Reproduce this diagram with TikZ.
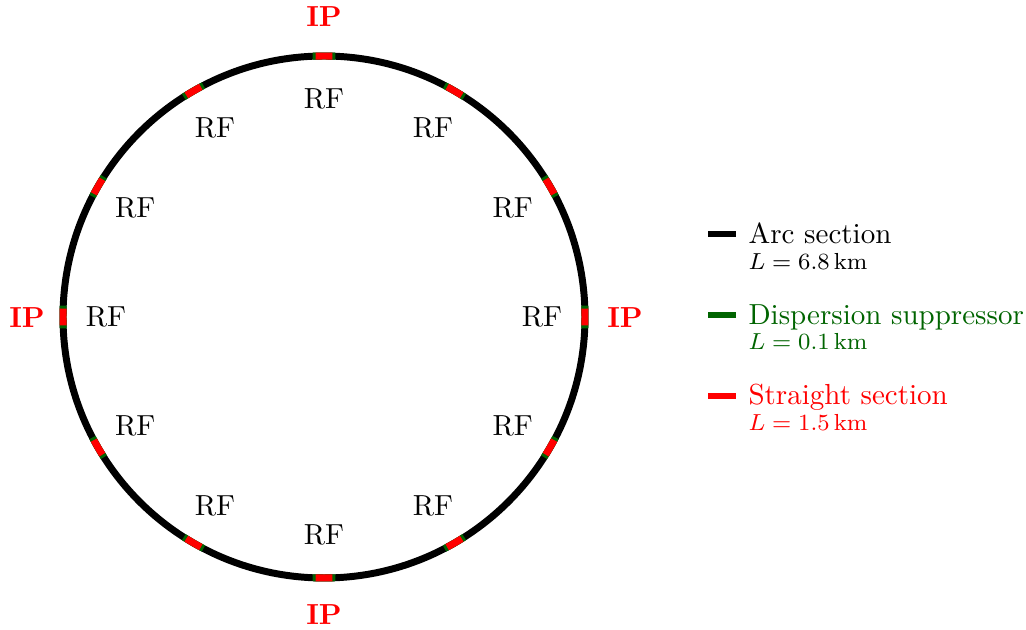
\documentclass[tikz,border=0pt]{standalone}
\definecolor{dsgreen}{RGB}{0,100,0}
\definecolor{ipred}{RGB}{255,0,0}
\begin{document}
\begin{tikzpicture}[x=0.3448pt,y=-0.3448pt,
  ring/.style={line width=2.4pt,line cap=butt},
  rflabel/.style={inner sep=0pt},
  iplabel/.style={text=ipred,font=\bfseries,inner sep=0pt},
  legtext/.style={anchor=base west,inner sep=0pt},
  legsub/.style={anchor=base west,inner sep=0pt,font=\footnotesize},
  legbar/.style={line width=2.4pt}]
\path[use as bounding box] (0,0) rectangle (1026,630);
\coordinate (O) at (324,317);
% ring
\draw[ring] (O) circle[radius=261];
\foreach \a in {0,30,...,330}{
  \draw[ring,dsgreen] ([shift={(\a-2.5:261)}]O) arc[start angle=\a-2.5,end angle=\a+2.5,radius=261];
  \draw[ring,ipred] ([shift={(\a-1.85:261)}]O) arc[start angle=\a-1.85,end angle=\a+1.85,radius=261];
}
% RF labels
\foreach \a [count=\i] in {0,30,...,330}{
  \node[rflabel] (rf\i) at ([shift={(\a:218)}]O) {RF};
}
% IP labels
\node[iplabel] (iptop) at (324,17) {IP};
\node[iplabel] (ipbot) at (324,615) {IP};
\node[iplabel] (ipleft) at (27,318) {IP};
\node[iplabel] (ipright) at (625,318) {IP};
% legend
\coordinate (b1a) at (708,234); \coordinate (b1b) at (736,234);
\coordinate (b2a) at (708,315); \coordinate (b2b) at (736,315);
\coordinate (b3a) at (708,396); \coordinate (b3b) at (736,396);
\draw[legbar] (b1a) -- (b1b);
\draw[legbar,dsgreen] (b2a) -- (b2b);
\draw[legbar,ipred] (b3a) -- (b3b);
\node[legtext] (t1) at (748,244) {Arc section};
\node[legsub] (s1) at (748,269.5) {$L=6.8\,\mathrm{km}$};
\node[legtext,text=dsgreen] (t2) at (748,324.5) {Dispersion suppressor};
\node[legsub,text=dsgreen] (s2) at (748,350) {$L=0.1\,\mathrm{km}$};
\node[legtext,text=ipred] (t3) at (748,405) {Straight section};
\node[legsub,text=ipred] (s3) at (748,430.5) {$L=1.5\,\mathrm{km}$};
\end{tikzpicture}
\end{document}
